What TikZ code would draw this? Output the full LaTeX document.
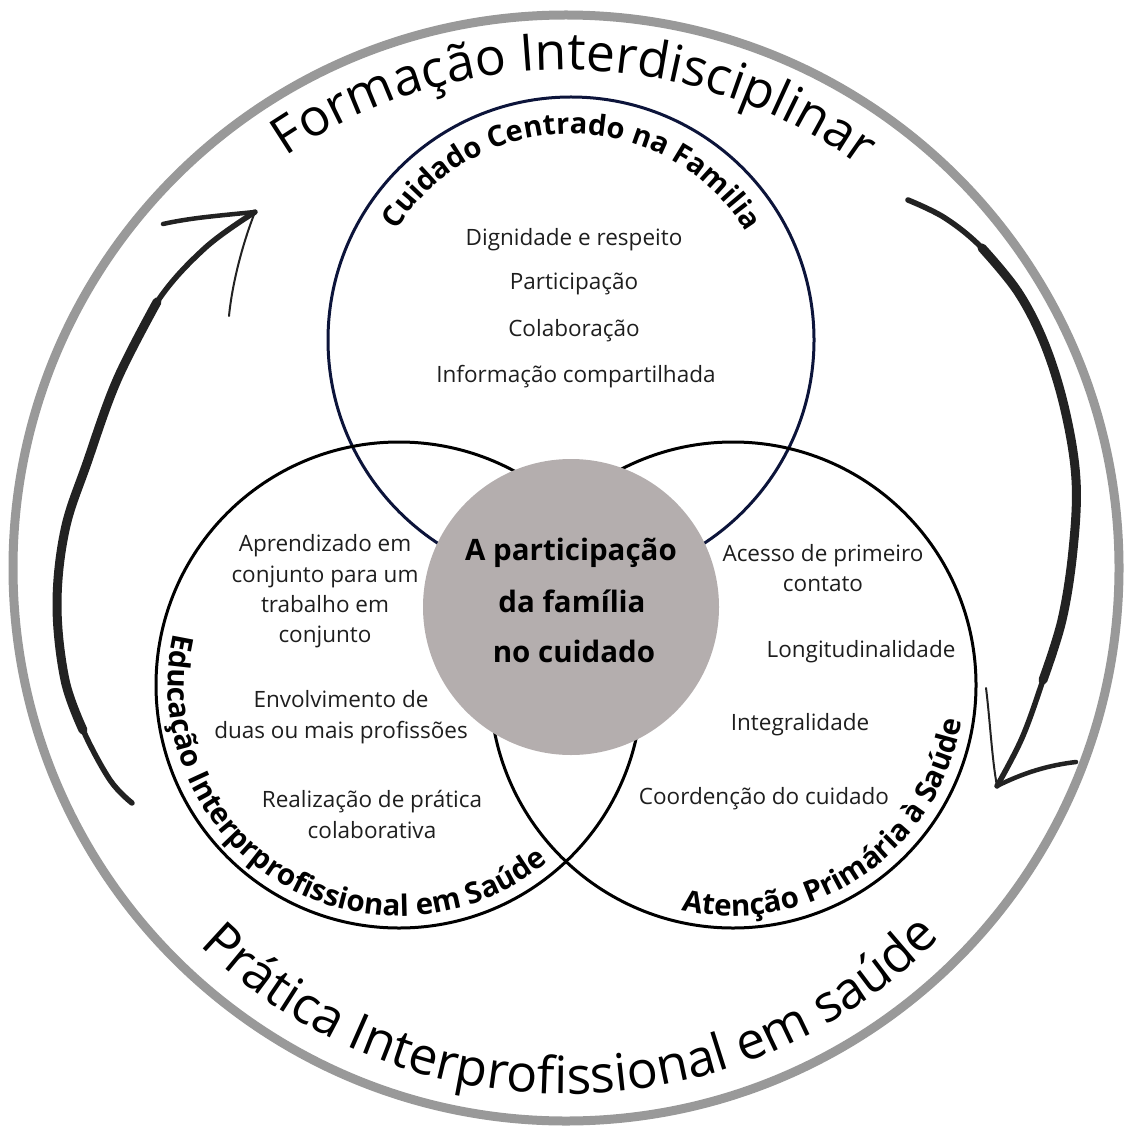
\documentclass[tikz,border=0pt]{standalone}
\usepackage{fontspec}
\setmainfont{Open Sans}
\IfFontExistsTF{Open Sans ExtraBold}
  {\newfontfamily\heavyfont{Open Sans ExtraBold}\newcommand\heavyscale{0.965}}
  {\newcommand\heavyfont{\bfseries}\newcommand\heavyscale{1}}
\usetikzlibrary{decorations.text}

\definecolor{ringgray}{RGB}{153,153,153}
\definecolor{navyline}{RGB}{12,20,58}
\definecolor{hubgray}{RGB}{180,174,174}
\definecolor{ink}{RGB}{30,30,30}
\definecolor{brush}{RGB}{34,34,34}

\newcommand\ttlfont{\fontsize{51.5}{60}\selectfont}
\newcommand\lblfont{\heavyfont\fontsize{\heavyscale\dimexpr 29.5pt\relax}{32}\selectfont}
\newcommand\toplblfont{\heavyfont\fontsize{\heavyscale\dimexpr 29pt\relax}{32}\selectfont}
\newcommand\hubfont{\heavyfont\fontsize{\heavyscale\dimexpr 29.5pt\relax}{36}\selectfont}

\begin{document}
\begin{tikzpicture}[x=1pt,y=1pt,
  ring/.style={circle,draw=ringgray,line width=9pt,minimum size=1106pt,inner sep=0pt},
  setcircle/.style={circle,draw=black,line width=3pt,minimum size=486pt,inner sep=0pt},
  hub/.style={circle,fill=hubgray,minimum size=296pt,inner sep=0pt},
  item/.style={font=\fontsize{22.5}{30}\selectfont,text=ink,anchor=base,inner sep=0pt},
  core/.style={font=\hubfont,text=black,anchor=base,inner sep=0pt},
  shaft/.style={draw=brush,line width=5.5pt,line cap=round,line join=round},
  shaftbody/.style={draw=brush,line width=9pt,line cap=round,line join=round},
  barb/.style={draw=brush,line width=4.5pt,line cap=round},
  thinbarb/.style={draw=brush,line width=2pt,line cap=round},
  arclabel/.style={decorate,decoration={text along path,text align=center,text color=black}}
]
\useasboundingbox (0,0) rectangle (1126,-1131);

% centres
\coordinate (O) at (566,-568);
\coordinate (T) at (571,-340);
\coordinate (L) at (399,-685);
\coordinate (R) at (733,-685);
\coordinate (M) at (571,-607);

% outer ring
\node[ring] (outer) at (O) {};

% ring titles
\path[arclabel,decoration={text={|\ttlfont|Formação Interdisciplinar}}]
  (O) ++(145:498) arc[start angle=145,end angle=33,radius=498];
\path[arclabel,decoration={text={|\ttlfont|Prática Interprofissional em saúde}}]
  (O) ++(208.6:526) arc[start angle=208.6,end angle=332.6,radius=526];

% left brush arrow (upwards)
\coordinate (ltail) at (132,-803);
\coordinate (ltip) at (255,-212);
\draw[shaft] plot[smooth,tension=0.6] coordinates {(ltail) (110,-780) (83,-730) (65,-680) (57,-605) (65,-530) (87,-463) (117,-380) (157,-302) (205,-248) (ltip)};
\draw[shaftbody] plot[smooth,tension=0.6] coordinates {(83,-730) (65,-680) (57,-605) (65,-530) (87,-463) (117,-380) (157,-302)};
\draw[barb] (ltip) .. controls (215,-216) and (190,-218) .. (163,-224);
\draw[thinbarb] (ltip) .. controls (242,-245) and (232,-285) .. (229,-316);

% right brush arrow (downwards)
\coordinate (rtail) at (908,-200);
\coordinate (rtip) at (997,-786);
\draw[shaft] plot[smooth,tension=0.6] coordinates {(rtail) (945,-218) (982,-248) (1018,-292) (1045,-345) (1065,-410) (1076,-480) (1073,-550) (1062,-620) (1043,-680) (1022,-738) (rtip)};
\draw[shaftbody] plot[smooth,tension=0.6] coordinates {(982,-248) (1018,-292) (1045,-345) (1065,-410) (1076,-480) (1073,-550) (1062,-620) (1043,-680)};
\draw[barb] (rtip) .. controls (1025,-772) and (1050,-765) .. (1076,-762);
\draw[thinbarb] (rtip) .. controls (992,-760) and (990,-720) .. (986,-688);

% the three sets
\node[setcircle,draw=navyline] (family) at (T) {};
\node[setcircle] (education) at (L) {};
\node[setcircle] (primary) at (R) {};

% set titles
\path[arclabel,decoration={text={|\toplblfont|Cuidado Centrado na Familia}}]
  (T) ++(159.7:206) arc[start angle=159.7,end angle=19.7,radius=206];
\path[arclabel,decoration={text={|\lblfont|Educação Interprprofissional em Saúde}}]
  (L) ++(153.6:231) arc[start angle=153.6,end angle=323.6,radius=231];
\path[arclabel,decoration={text={|\lblfont|Atenção Primária à Saúde}}]
  (R) ++(234.1:231) arc[start angle=234.1,end angle=374.1,radius=231];

% centre
\node[hub] (hubdisc) at (M) {};
\node[core] (c1) at (571,-560) {A participação};
\node[core] (c2) at (572,-612) {da família};
\node[core] (c3) at (574,-662) {no cuidado};

% family-centred care
\node[item] (f1) at (574,-246) {Dignidade e respeito};
\node[item] (f2) at (574,-290) {Participação};
\node[item] (f3) at (574,-336) {Colaboração};
\node[item] (f4) at (576,-382) {Informação compartilhada};

% interprofessional education
\node[item] (e1) at (325,-551) {Aprendizado em};
\node[item] (e2) at (325,-582) {conjunto para um};
\node[item] (e3) at (325,-612) {trabalho em};
\node[item] (e4) at (325,-642) {conjunto};
\node[item] (e5) at (341,-707) {Envolvimento de};
\node[item] (e6) at (341,-738) {duas ou mais profissões};
\node[item] (e7) at (372,-807) {Realização de prática};
\node[item] (e8) at (372,-838) {colaborativa};

% primary health care
\node[item] (p1) at (823,-561) {Acesso de primeiro};
\node[item] (p2) at (823,-591) {contato};
\node[item] (p3) at (861,-657) {Longitudinalidade};
\node[item] (p4) at (800,-730) {Integralidade};
\node[item] (p5) at (764,-804) {Coordenção do cuidado};
\end{tikzpicture}
\end{document}
